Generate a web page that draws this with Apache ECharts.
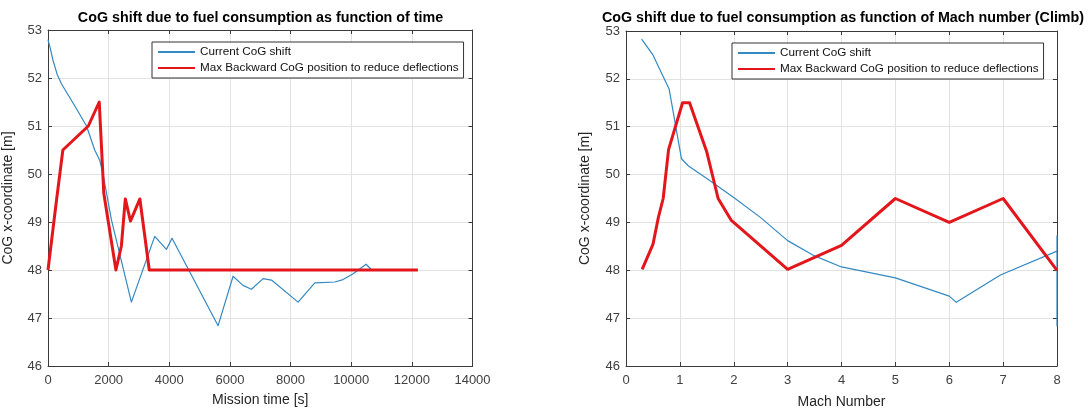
<!DOCTYPE html>
<html>
<head>
<meta charset="utf-8">
<script src="https://cdn.jsdelivr.net/npm/echarts@6/dist/echarts.min.js"></script>
<style>
html,body{margin:0;padding:0;background:#fff;}
#chart{width:1091px;height:414px;}
</style>
</head>
<body>
<div id="chart"></div>
<script>
// ---- Data ----
const seriesNames = ['Current CoG shift', 'Max Backward CoG position to reduce deflections'];
const titles = ['CoG shift due to fuel consumption as function of time',
                'CoG shift due to fuel consumption as function of Mach number (Climb)'];

// Left chart: CoG vs mission time
const leftCurrentTime = [0, 80, 165, 300, 442, 900, 1270, 1540, 1710, 1815, 2090, 2750, 3520, 3905, 4090, 5610, 6104, 6430, 6710, 7094, 7370, 8248, 8800, 9460, 9730, 10063, 10490, 10680];
const leftCurrentCoG  = [52.8, 52.6, 52.37, 52.08, 51.88, 51.4, 51.0, 50.5, 50.28, 50.0, 49.05, 47.33, 48.7, 48.43, 48.66, 46.84, 47.87, 47.68, 47.6, 47.82, 47.79, 47.33, 47.73, 47.75, 47.8, 47.92, 48.12, 48.0];
const leftMaxTime = [0, 270, 490, 1330, 1690, 1840, 2240, 2420, 2550, 2720, 3030, 3340, 12200];
const leftMaxCoG  = [48.0, 49.4, 50.5, 51.0, 51.5, 49.6, 48.0, 48.5, 49.48, 49.02, 49.48, 48.0, 48.0];

// Right chart: CoG vs Mach number (climb)
const rightCurrentMach = [0.29, 0.5, 0.8, 1.03, 1.16, 1.5, 2.0, 2.5, 3.0, 3.5, 4.0, 5.0, 6.0, 6.13, 6.95, 8.0, 8.0, 8.0, 8.0];
const rightCurrentCoG  = [52.83, 52.5, 51.79, 50.33, 50.18, 49.92, 49.52, 49.1, 48.62, 48.3, 48.07, 47.84, 47.46, 47.33, 47.9, 48.4, 48.72, 46.84, 48.0];
const rightMaxMach = [0.3, 0.5, 0.6, 0.69, 0.79, 1.05, 1.18, 1.5, 1.71, 1.95, 3.0, 4.0, 5.0, 6.0, 7.0, 8.0];
const rightMaxCoG  = [48.02, 48.54, 49.1, 49.5, 50.52, 51.5, 51.5, 50.47, 49.5, 49.05, 48.02, 48.52, 49.5, 49.0, 49.5, 48.0];

// Axis ranges / tick steps
const leftXTicks = {min: 0, max: 14000, interval: 2000};
const rightXTicks = {min: 0, max: 8, interval: 1};
const yTicks = {min: 46, max: 53, interval: 1};
const xNames = ['Mission time [s]', 'Mach Number'];
const yName = 'CoG x-coordinate [m]';

// ---- Styling ----
const FONT = '"Liberation Sans", Arial, Helvetica, sans-serif';
const BLUE = '#3389c2';
const RED = '#e3161b';
const AXIS = '#3a3a3a';
const GRIDC = '#e2e2e2';

function zip(xs, ys) { return xs.map((x, i) => [x, ys[i]]); }
const plain = v => String(v);

const grids = [
  {left: 48, top: 30, width: 424.5, height: 336},
  {left: 626, top: 31, width: 431, height: 341}
];

function mainX(gi, ticks, name, gap) {
  return Object.assign({
    type: 'value', gridIndex: gi, position: 'bottom',
    name: name, nameLocation: 'middle', nameGap: gap,
    nameTextStyle: {fontFamily: FONT, fontSize: 14, color: '#262626'},
    axisLine: {show: true, onZero: false, lineStyle: {color: AXIS, width: 1}},
    axisTick: {show: true, inside: true, length: 4, lineStyle: {color: AXIS}},
    axisLabel: {show: true, margin: 8, formatter: plain, fontFamily: FONT, fontSize: 13, color: '#404040', showMinLabel: true, showMaxLabel: true},
    splitLine: {show: true, lineStyle: {color: GRIDC, width: 1}}
  }, ticks);
}
function topX(gi, ticks) {
  return Object.assign({
    type: 'value', gridIndex: gi, position: 'top',
    axisLine: {show: true, onZero: false, lineStyle: {color: AXIS, width: 1}},
    axisTick: {show: true, inside: true, length: 4, lineStyle: {color: AXIS}},
    axisLabel: {show: false}, splitLine: {show: false}
  }, ticks);
}
function mainY(gi, gap) {
  return Object.assign({
    type: 'value', gridIndex: gi, position: 'left',
    name: yName, nameLocation: 'middle', nameGap: gap, nameRotate: 90,
    nameTextStyle: {fontFamily: FONT, fontSize: 14, color: '#262626'},
    axisLine: {show: true, onZero: false, lineStyle: {color: AXIS, width: 1}},
    axisTick: {show: true, inside: true, length: 4, lineStyle: {color: AXIS}},
    axisLabel: {show: true, margin: 6, formatter: plain, fontFamily: FONT, fontSize: 13, color: '#404040', showMinLabel: true, showMaxLabel: true},
    splitLine: {show: true, lineStyle: {color: GRIDC, width: 1}}
  }, yTicks);
}
function rightY(gi) {
  return Object.assign({
    type: 'value', gridIndex: gi, position: 'right',
    axisLine: {show: true, onZero: false, lineStyle: {color: AXIS, width: 1}},
    axisTick: {show: true, inside: true, length: 4, lineStyle: {color: AXIS}},
    axisLabel: {show: false}, splitLine: {show: false}
  }, yTicks);
}

function legend(left, top) {
  return {
    left: left, top: top, orient: 'vertical',
    data: seriesNames,
    itemWidth: 37, itemHeight: 12, itemGap: 4,
    padding: [4, 5, 4, 5],
    itemStyle: {opacity: 0, borderWidth: 0},
    backgroundColor: '#ffffff', borderColor: '#333333', borderWidth: 1,
    textStyle: {fontFamily: FONT, fontSize: 11.7, color: '#111'},
    selectedMode: false
  };
}

function lineSeries(name, xi, yi, data, color, width, z) {
  return {
    type: 'line', name: name, xAxisIndex: xi, yAxisIndex: yi,
    data: data, showSymbol: false, symbol: 'none', z: z,
    lineStyle: {color: color, width: width, join: 'round'},
    itemStyle: {color: color},
    clip: false, animation: false
  };
}

const option = {
  animation: false,
  backgroundColor: '#ffffff',
  textStyle: {fontFamily: FONT},
  grid: grids,
  graphic: [
    {type: 'text', x: 260.5, y: 18.5, style: {text: titles[0], x: 0, y: 0, align: 'center', verticalAlign: 'middle', font: 'bold 14.3px ' + FONT, fill: '#000'}},
    {type: 'text', x: 843, y: 18.5, style: {text: titles[1], x: 0, y: 0, align: 'center', verticalAlign: 'middle', font: 'bold 14.3px ' + FONT, fill: '#000'}}
  ],
  legend: [legend(152, 42), legend(732, 43)],
  xAxis: [mainX(0, leftXTicks, xNames[0], 27), topX(0, leftXTicks), mainX(1, rightXTicks, xNames[1], 29), topX(1, rightXTicks)],
  yAxis: [mainY(0, 33), rightY(0), mainY(1, 34), rightY(1)],
  series: [
    lineSeries(seriesNames[0], 0, 0, zip(leftCurrentTime, leftCurrentCoG), BLUE, 1.2, 3),
    lineSeries(seriesNames[1], 0, 0, zip(leftMaxTime, leftMaxCoG), RED, 3, 4),
    lineSeries(seriesNames[0], 2, 2, zip(rightCurrentMach, rightCurrentCoG), BLUE, 1.2, 3),
    lineSeries(seriesNames[1], 2, 2, zip(rightMaxMach, rightMaxCoG), RED, 3, 4)
  ]
};

const chart = echarts.init(document.getElementById('chart'), null, {renderer: 'canvas'});
chart.setOption(option);
</script>
</body>
</html>
